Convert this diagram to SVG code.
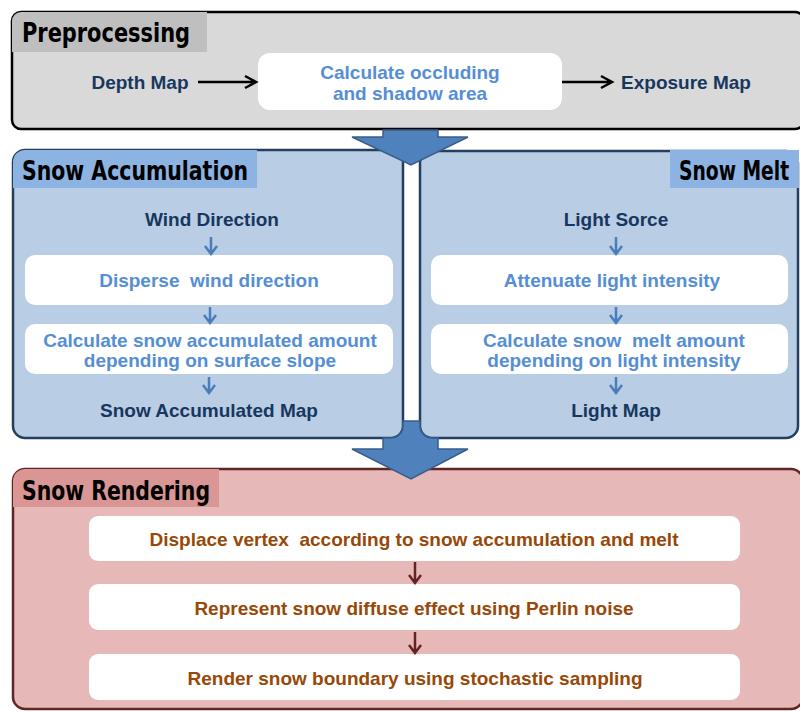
<svg xmlns="http://www.w3.org/2000/svg" width="800" height="711" viewBox="0 0 800 711">
<style>
.title{font-family:"DejaVu Sans Condensed","Liberation Sans",sans-serif;font-weight:bold;font-size:26px;fill:#000}
.t{font-family:"Liberation Sans",Arial,sans-serif;font-weight:bold;font-size:19px;text-anchor:middle;white-space:pre}
.navy{fill:#17375e}
.blue{fill:#558ed5}
.brown{fill:#984807}
.white{fill:#fff}
.ablk{stroke:#000;stroke-width:2.5;fill:none}
.ablu{stroke:#4a7ebb;stroke-width:2.5;fill:none}
.ared{stroke:#632523;stroke-width:2.5;fill:none}
.big{fill:#4f81bd;stroke:#385d8a;stroke-width:1.5}
</style>
<rect width="800" height="711" fill="#fff"/>

<g id="rendering">
  <rect x="13" y="469" width="790" height="240" rx="12" fill="#e6b9b8" stroke="#632523" stroke-width="2.5"/>
  <path d="M13,507 L13,481 A12,12 0 0 1 25,469 L219,469 L219,507 Z" fill="#d99694"/>
  <text class="title" x="22" y="500" textLength="188" lengthAdjust="spacingAndGlyphs">Snow Rendering</text>
  <g id="render1">
    <rect x="89" y="516" width="651" height="45" rx="9" class="white"/>
    <text class="t brown" x="414" y="546" xml:space="preserve">Displace vertex  according to snow accumulation and melt</text>
  </g>
  <g id="render2">
    <rect x="89" y="584" width="651" height="46" rx="9" class="white"/>
    <text class="t brown" x="414" y="615">Represent snow diffuse effect using Perlin noise</text>
  </g>
  <g id="render3">
    <rect x="89" y="654" width="651" height="46" rx="9" class="white"/>
    <text class="t brown" x="415" y="685">Render snow boundary using stochastic sampling</text>
  </g>
</g>

<g id="accumulation">
  <rect x="13" y="150" width="390" height="288" rx="12" fill="#b9cde5" stroke="#243f60" stroke-width="2.5"/>
  <path d="M13,188 L13,162 A12,12 0 0 1 25,150 L257,150 L257,188 Z" fill="#8db3e2"/>
  <text class="title" x="22" y="180" textLength="226" lengthAdjust="spacingAndGlyphs">Snow Accumulation</text>
  <text id="wind" class="t navy" x="212" y="226">Wind Direction</text>
  <g id="disperse">
    <rect x="25" y="255" width="368" height="50" rx="10" class="white"/>
    <text class="t blue" x="209" y="287" xml:space="preserve">Disperse  wind direction</text>
  </g>
  <g id="calcacc">
    <rect x="25" y="324" width="368" height="50" rx="10" class="white"/>
    <text class="t blue" x="210" y="347">Calculate snow accumulated amount</text>
    <text class="t blue" x="210" y="367">depending on surface slope</text>
  </g>
  <text id="accmap" class="t navy" x="209" y="417">Snow Accumulated Map</text>
</g>

<g id="melt">
  <rect x="420" y="151" width="378" height="287" rx="12" fill="#b9cde5" stroke="#243f60" stroke-width="2.5"/>
  <rect x="670" y="150" width="129" height="38" fill="#8db3e2"/>
  <text class="title" transform="translate(679,180) scale(0.8,1)" x="0" y="0">Snow Melt</text>
  <text id="light" class="t navy" x="616" y="226">Light Sorce</text>
  <g id="attenuate">
    <rect x="431" y="255" width="357" height="50" rx="10" class="white"/>
    <text class="t blue" x="612" y="287">Attenuate light intensity</text>
  </g>
  <g id="calcmelt">
    <rect x="431" y="324" width="357" height="50" rx="10" class="white"/>
    <text class="t blue" x="614" y="347" xml:space="preserve">Calculate snow  melt amount</text>
    <text class="t blue" x="614" y="367">depending on light intensity</text>
  </g>
  <text id="lightmap" class="t navy" x="616" y="417">Light Map</text>
</g>

<g id="preprocessing">
  <rect x="12" y="12" width="792" height="117" rx="9" fill="#d9d9d9" stroke="#000" stroke-width="2.5"/>
  <path d="M12,52 L12,21 A9,9 0 0 1 21,12 L207,12 L207,52 Z" fill="#bfbfbf"/>
  <text class="title" x="22" y="42" textLength="168" lengthAdjust="spacingAndGlyphs">Preprocessing</text>
  <text id="depth" class="t navy" x="140" y="89">Depth Map</text>
  <g id="occluding">
    <rect x="258" y="53" width="304" height="57" rx="12" class="white"/>
    <text class="t blue" x="410" y="79">Calculate occluding</text>
    <text class="t blue" x="410" y="100">and shadow area</text>
  </g>
  <text id="exposure" class="t navy" x="686" y="89">Exposure Map</text>
</g>

<g id="connectors">
  <path class="ablk" d="M198,82 L255,82 M245,76 L256,82 L245,88"/>
  <path class="ablk" d="M562,82 L611,82 M601,76 L612,82 L601,88"/>
  <path class="big" d="M383,130 L438,130 L438,137 L468,137 L411,165 L352,137 L383,137 Z"/>
  <path class="big" d="M403,421 L420,421 L420,426 A12,12 0 0 0 432,438 L438,438 L438,449 L468,449 L411,479 L352,449 L383,449 L383,438 L391,438 A12,12 0 0 0 403,426 Z"/>
  <path class="ablu" d="M211,237 L211,253 M205,246 L211,254 L217,246"/>
  <path class="ablu" d="M210,307 L210,322 M204,315 L210,323 L216,315"/>
  <path class="ablu" d="M209,377 L209,392 M203,385 L209,393 L215,385"/>
  <path class="ablu" d="M616,237 L616,253 M610,246 L616,254 L622,246"/>
  <path class="ablu" d="M616,307 L616,322 M610,315 L616,323 L622,315"/>
  <path class="ablu" d="M616,377 L616,392 M610,385 L616,393 L622,385"/>
  <path class="ared" d="M415,562 L415,582 M409,575 L415,583 L421,575"/>
  <path class="ared" d="M415,632 L415,652 M409,645 L415,653 L421,645"/>
</g>
</svg>
